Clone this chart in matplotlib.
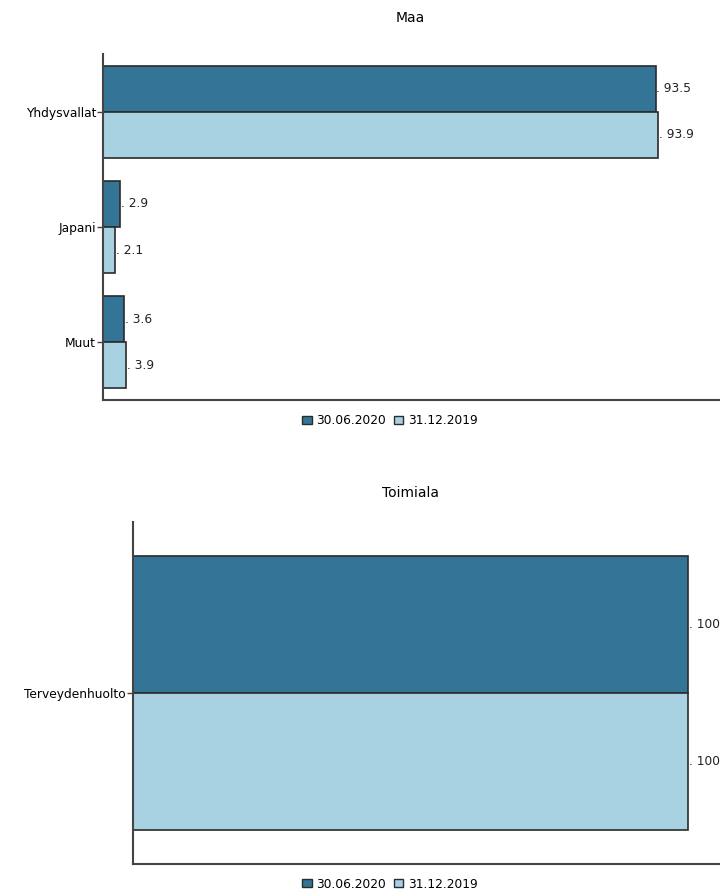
import matplotlib
matplotlib.use("Agg")
import matplotlib.pyplot as plt
from matplotlib.patches import Patch
import numpy as np

plt.rcParams['font.family'] = ['DejaVu Sans']

# Data
series_names = ["30.06.2020", "31.12.2019"]
maa_categories = ["Yhdysvallat", "Japani", "Muut"]
maa_2020 = [93.5, 2.9, 3.6]
maa_2019 = [93.9, 2.1, 3.9]
maa_title = "Maa"

toimiala_categories = ["Terveydenhuolto"]
toimiala_2020 = [100]
toimiala_2019 = [100]
toimiala_title = "Toimiala"

dark = "#347597"
light = "#A8D2E1"
edge = "#2b2b2b"

W, H = 720, 892
fig = plt.figure(figsize=(W / 100, H / 100), dpi=100)

FS = 8.8


def panel(rect, cats, v1, v2, xmax, title, title_y, legend_y):
    ax = fig.add_axes(rect)
    y = np.arange(len(cats))
    h = 0.4
    ax.barh(y - h / 2, v1, height=h, color=dark, edgecolor=edge, linewidth=1.2)
    ax.barh(y + h / 2, v2, height=h, color=light, edgecolor=edge, linewidth=1.2)
    for yi, a, b in zip(y, v1, v2):
        for val, yy in ((a, yi - h / 2), (b, yi + h / 2)):
            txt = f"{val:g}"
            ax.annotate(". " + txt, (val, yy), xytext=(0.5, 0), textcoords="offset points",
                        va="center", ha="left", fontsize=FS, color="#222222",
                        annotation_clip=False)
    ax.set_ylim(len(cats) - 0.5, -0.5)
    ax.set_xlim(0, xmax)
    ax.set_yticks(y)
    ax.set_yticklabels(cats, fontsize=FS)
    ax.set_xticks([])
    for s in ("top", "right"):
        ax.spines[s].set_visible(False)
    for s in ("left", "bottom"):
        ax.spines[s].set_color("#444444")
        ax.spines[s].set_linewidth(1.5)
    ax.tick_params(axis="y", length=4, width=1, color="#444444", pad=1)
    fig.text(410 / W, 1 - title_y / H, title, ha="center", va="center", fontsize=10)
    handles = [Patch(facecolor=dark, edgecolor=edge, label=series_names[0]),
               Patch(facecolor=light, edgecolor=edge, label=series_names[1])]
    fig.legend(handles=handles, loc="center", bbox_to_anchor=(390 / W, 1 - legend_y / H),
               ncol=2, frameon=False, fontsize=FS, handlelength=0.8, handleheight=0.6,
               handletextpad=0.4, columnspacing=0.6)
    return ax


def rect_px(left, top, right, bottom):
    return [left / W, 1 - bottom / H, (right - left) / W, (bottom - top) / H]


panel(rect_px(103, 54, 720, 400), maa_categories, maa_2020, maa_2019, 104.4,
      maa_title, 18, 421)
panel(rect_px(133, 522, 720, 864), toimiala_categories, toimiala_2020, toimiala_2019, 105.8,
      toimiala_title, 493, 884)

fig.savefig("out.png", dpi=100)
